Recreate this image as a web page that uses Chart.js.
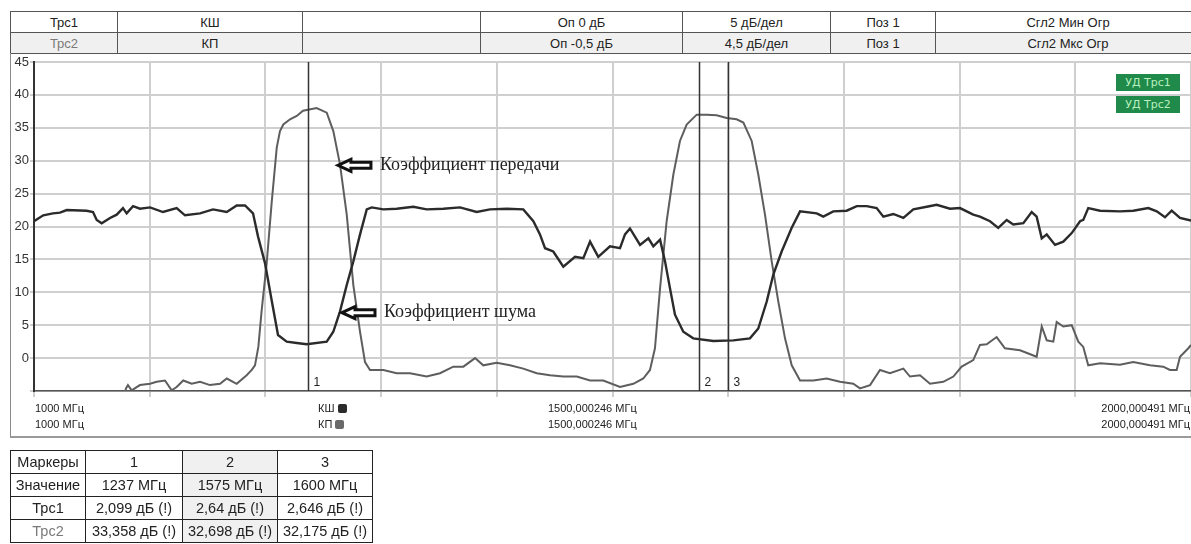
<!DOCTYPE html>
<html><head><meta charset="utf-8">
<script src="https://cdn.jsdelivr.net/npm/chart.js@4/dist/chart.umd.min.js"></script>
<style>
body{margin:0;background:#fff;width:1191px;height:544px;overflow:hidden;position:relative;font-family:"Liberation Sans",Arial,sans-serif;color:#222;}
#c{position:absolute;left:0;top:0;}
#hdr{position:absolute;left:10px;top:11px;border-collapse:collapse;table-layout:fixed;width:1190px;font-size:13px;}
#hdr td{border:1px solid #555;height:20px;padding:0;text-align:center;white-space:nowrap;overflow:hidden;}
#hdr tr.r2 td{background:#f0f0f0;}
#hdr .t2{color:#7a7a7a;}
#frame{position:absolute;left:10px;top:53px;width:1190px;height:383px;border-left:1px solid #8a8a8a;border-bottom:2px solid #9a9a9a;}
.fl{position:absolute;font-size:11px;line-height:12px;white-space:nowrap;color:#222;}
.sq{display:inline-block;width:9px;height:9px;border-radius:2px;margin-left:3px;vertical-align:-1px;}
.badge{position:absolute;left:1116px;width:64px;height:17px;background:#1f8a49;color:#b9efbf;font-family:"DejaVu Sans",sans-serif;font-size:11px;line-height:17px;text-align:center;}
#mk{position:absolute;left:10px;top:450px;border-collapse:collapse;table-layout:fixed;font-size:14.5px;}
#mk td{border:1.5px solid #222;height:22px;padding:0;text-align:center;white-space:nowrap;}
#mk td.g{background:#f0f0f0;}
#mk .t2{color:#7a7a7a;}
</style></head><body>
<table id="hdr">
<colgroup><col style="width:107px"><col style="width:185px"><col style="width:178px"><col style="width:202px"><col style="width:148px"><col style="width:105px"><col style="width:265px"></colgroup>
<tr><td>Трс1</td><td>КШ</td><td></td><td>Оп 0 дБ</td><td>5 дБ/дел</td><td>Поз 1</td><td>Сгл2 Мин Огр</td></tr>
<tr class="r2"><td class="t2">Трс2</td><td>КП</td><td></td><td>Оп -0,5 дБ</td><td>4,5 дБ/дел</td><td>Поз 1</td><td>Сгл2 Мкс Огр</td></tr>
</table>
<div id="frame"></div>
<canvas id="c" width="1191" height="544"></canvas>
<div class="fl" style="left:35px;top:402px">1000 МГц</div>
<div class="fl" style="left:35px;top:418px">1000 МГц</div>
<div class="fl" style="left:318px;top:402px">КШ<span class="sq" style="background:#2b2b2b"></span></div>
<div class="fl" style="left:318px;top:418px">КП<span class="sq" style="background:#6a6a6a"></span></div>
<div class="fl" style="left:548px;top:402px">1500,000246 МГц</div>
<div class="fl" style="left:548px;top:418px">1500,000246 МГц</div>
<div class="fl" style="right:1px;top:402px">2000,000491 МГц</div>
<div class="fl" style="right:1px;top:418px">2000,000491 МГц</div>
<div class="badge" style="top:74px">УД Трс1</div>
<div class="badge" style="top:96px">УД Трс2</div>
<table id="mk">
<colgroup><col style="width:75px"><col style="width:97px"><col style="width:95px"><col style="width:95px"></colgroup>
<tr><td>Маркеры</td><td>1</td><td class="g">2</td><td>3</td></tr>
<tr><td>Значение</td><td>1237 МГц</td><td class="g">1575 МГц</td><td>1600 МГц</td></tr>
<tr><td>Трс1</td><td>2,099 дБ (!)</td><td class="g">2,64 дБ (!)</td><td>2,646 дБ (!)</td></tr>
<tr><td class="t2">Трс2</td><td>33,358 дБ (!)</td><td class="g">32,698 дБ (!)</td><td>32,175 дБ (!)</td></tr>
</table>
<script>
// Трс1 — КШ (коэффициент шума), dark trace
const ksFreq = [1000,1008,1016.4,1022.5,1028.3,1045.5,1051,1054.2,1058.5,1065.7,1071.5,1076.9,1080.1,1085.6,1091.6,1100.3,1111.5,1123.3,1130.5,1143.5,1154.7,1166.6,1175.2,1182.4,1189.3,1193.6,1199.7,1205.4,1210.9,1218.4,1227.1,1235.7,1253,1258.7,1264.5,1270.3,1276,1281.8,1287.6,1291.9,1301.9,1313.5,1327.8,1339.4,1353.8,1368.2,1382.6,1394.1,1408.6,1422.9,1431.6,1437.3,1441.7,1448.8,1457.5,1467.6,1474.8,1480.6,1487.7,1497.8,1506.5,1510.8,1515.1,1523.8,1531,1535.3,1541.1,1545.4,1549.7,1554,1561.2,1569.8,1587.1,1604.4,1618.8,1626,1633.3,1639,1646.2,1654.9,1662.1,1676.5,1682.2,1690.8,1702.4,1711.1,1719.7,1728.3,1734.1,1742.7,1751.4,1760,1771.6,1780.2,1791.7,1800.3,1811.8,1817.6,1826.3,1833.4,1840.7,1846.4,1855.1,1862.3,1866.6,1871,1875.3,1882.5,1889.6,1896.9,1904.1,1906.9,1911.2,1921.4,1938.6,1950.1,1963.1,1970.4,1977.5,1983.3,1990.5,2000];
const ksValues = [20.8,21.7,22.0,22.1,22.5,22.4,22.2,21.0,20.5,21.3,21.8,22.8,22.0,23.1,22.7,22.9,22.2,22.8,21.7,22.0,22.6,22.2,23.2,23.2,22.0,18.5,14.4,8.8,3.5,2.5,2.3,2.1,2.5,4.0,7.1,11.1,14.7,18.8,22.6,22.9,22.6,22.7,23.0,22.6,22.7,22.9,22.2,22.6,22.7,22.6,20.8,18.8,16.7,16.2,13.9,15.4,15.2,17.7,15.4,17.0,16.7,18.8,19.7,17.2,18.2,17.0,18.0,14.7,10.6,6.6,4.0,3.0,2.6,2.7,3.0,4.5,8.6,12.7,16.2,19.8,22.3,22.0,21.5,22.3,22.4,23.1,23.1,22.8,21.5,21.9,21.3,22.6,23.0,23.3,22.7,22.8,21.8,21.5,20.8,19.8,21.0,20.3,20.5,22.2,21.5,18.2,18.8,17.2,17.7,19.0,20.8,21.0,22.8,22.4,22.3,22.4,22.8,22.3,21.4,22.4,21.3,20.9];
// Трс2 — КП (коэффициент передачи), grey trace
const kpFreq = [1000,1077,1079.5,1081.2,1084.4,1091.6,1100.3,1106,1113.2,1119,1123.3,1129,1136.3,1143.5,1152.1,1160.8,1166.6,1175.2,1183.8,1188.2,1191,1193.9,1196.8,1201.1,1205.4,1209.8,1212.6,1215.5,1221.3,1227.1,1232.5,1244.3,1253,1258.7,1264.5,1270.3,1276,1281.8,1286.1,1290.4,1301.9,1313.5,1325,1339.4,1350.9,1362.4,1371.1,1381.2,1388.3,1399.9,1411.4,1422.9,1434.5,1446,1457.5,1469.1,1480.6,1492,1506.5,1518,1526.6,1532.4,1536.7,1541.1,1546.8,1552.6,1558.3,1564.1,1572.8,1581.4,1590,1598.7,1607.3,1613.1,1620.3,1626,1631.8,1637.6,1643.3,1649.1,1654.9,1662.1,1673.6,1685.1,1696.6,1708.1,1713.9,1722.6,1731.2,1739.8,1751.4,1757.1,1765.8,1774.4,1785.9,1794.6,1801.8,1811.8,1817.6,1823.4,1832,1839.2,1852.2,1859.4,1866.6,1871,1875.3,1881,1883.9,1889.6,1896.9,1902.6,1906.9,1911.2,1921.4,1938.6,1950.1,1964.5,1976,1981.8,1987.6,1990.5,1997.7,2000];
const kpValues = [-8,-6.5,-4.6,-4.1,-4.9,-4.1,-3.9,-3.6,-3.4,-4.9,-4.4,-3.4,-3.9,-3.6,-4.1,-3.9,-3.1,-3.9,-2.6,-1.8,-1.1,1.7,7.3,14.4,23.6,32.0,34.5,35.5,36.3,36.8,37.6,38.0,37.3,34.5,29.4,21.8,11.1,4.0,-0.6,-1.8,-1.8,-2.3,-2.3,-2.8,-2.3,-1.3,-1.3,0.0,-1.1,-0.7,-1.1,-1.6,-2.3,-2.6,-2.8,-2.8,-3.4,-3.4,-4.4,-3.9,-3.1,-1.8,1.5,10.6,20.8,27.9,33.0,35.5,37.0,37.0,36.9,36.5,36.3,35.8,33.0,27.9,21.8,14.7,8.6,3.0,-1.1,-3.4,-3.4,-3.1,-3.6,-3.9,-4.6,-4.1,-1.8,-2.3,-1.6,-2.8,-2.6,-3.9,-3.6,-2.8,-1.3,-0.3,2.0,2.1,3.2,1.5,1.2,0.7,0.2,4.8,2.7,2.5,5.5,4.8,5.0,2.5,1.7,-1.1,-0.8,-1.0,-0.6,-1.1,-1.3,-1.8,-1.8,0.2,1.5,2.0];
const yTicks = [-5,0,5,10,15,20,25,30,35,40,45];
const markerFreqs = [1237,1575,1600];
const markerLabels = ['1','2','3'];
const annotTexts = ['Коэффициент передачи','Коэффициент шума'];
const annotAnchors = [[1262.7,29.3],[1266.2,6.9]];

const markerPlugin = {
  id:'markers',
  afterDatasetsDraw(ch){
    const {ctx, chartArea:a, scales:{x}} = ch;
    ctx.save();
    markerFreqs.forEach((f,i)=>{
      const px = Math.round(x.getPixelForValue(f))+0.5;
      ctx.strokeStyle='#333'; ctx.lineWidth=1.5;
      ctx.beginPath(); ctx.moveTo(px,a.top); ctx.lineTo(px,a.bottom); ctx.stroke();
      ctx.fillStyle='#222'; ctx.font='12px "Liberation Sans"'; ctx.textBaseline='middle'; ctx.textAlign='left';
      ctx.fillText(markerLabels[i], px+5, a.bottom-8);
    });
    ctx.restore();
  }
};
const annotPlugin = {
  id:'annot',
  afterDraw(ch){
    const {ctx, scales:{x,y}} = ch;
    ctx.save();
    annotAnchors.forEach((p,i)=>{
      const tx = x.getPixelForValue(p[0]), ty = y.getPixelForValue(p[1]);
      ctx.beginPath();
      ctx.moveTo(tx,ty); ctx.lineTo(tx+13,ty-6); ctx.lineTo(tx+13,ty-3); ctx.lineTo(tx+33,ty-3);
      ctx.lineTo(tx+33,ty+3); ctx.lineTo(tx+13,ty+3); ctx.lineTo(tx+13,ty+6); ctx.closePath();
      ctx.fillStyle='#fff'; ctx.fill();
      ctx.strokeStyle='#111'; ctx.lineWidth=3; ctx.lineJoin='miter'; ctx.stroke();
      ctx.fillStyle='#222'; ctx.font='18px "Liberation Serif"'; ctx.textBaseline='middle'; ctx.textAlign='left';
      ctx.fillText(annotTexts[i], tx+42, ty);
    });
    ctx.restore();
  }
};

new Chart(document.getElementById('c'), {
  type:'line',
  data:{datasets:[
    {label:'КШ', data:ksFreq.map((f,i)=>({x:f,y:ksValues[i]})), borderColor:'#2b2b2b', borderWidth:2.4, pointRadius:0, tension:0, clip:0},
    {label:'КП', data:kpFreq.map((f,i)=>({x:f,y:kpValues[i]})), borderColor:'#5e5e5e', borderWidth:2, pointRadius:0, tension:0, clip:0}
  ]},
  options:{
    responsive:false, animation:false, events:[],
    layout:{padding:{top:62,bottom:146,left:0,right:0}},
    plugins:{legend:{display:false},tooltip:{enabled:false}},
    scales:{
      x:{type:'linear',min:1000,max:2000,ticks:{stepSize:100,display:false},
         grid:{color:'#cfcfcf',lineWidth:2,tickLength:6},border:{color:'#555',width:1.5},
         afterFit:s=>{s.height=7;}},
      y:{min:-5,max:45,afterBuildTicks:s=>{s.ticks=yTicks.map(v=>({value:v}));},
         ticks:{callback:v=>v===-5?'':String(v),font:{family:'Liberation Sans',size:13},color:'#333',padding:1},
         grid:{color:'#cfcfcf',lineWidth:2,tickLength:4},border:{color:'#333',width:2},
         afterFit:s=>{s.width=34;}}
    }
  },
  plugins:[markerPlugin, annotPlugin]
});
</script>
</body></html>
